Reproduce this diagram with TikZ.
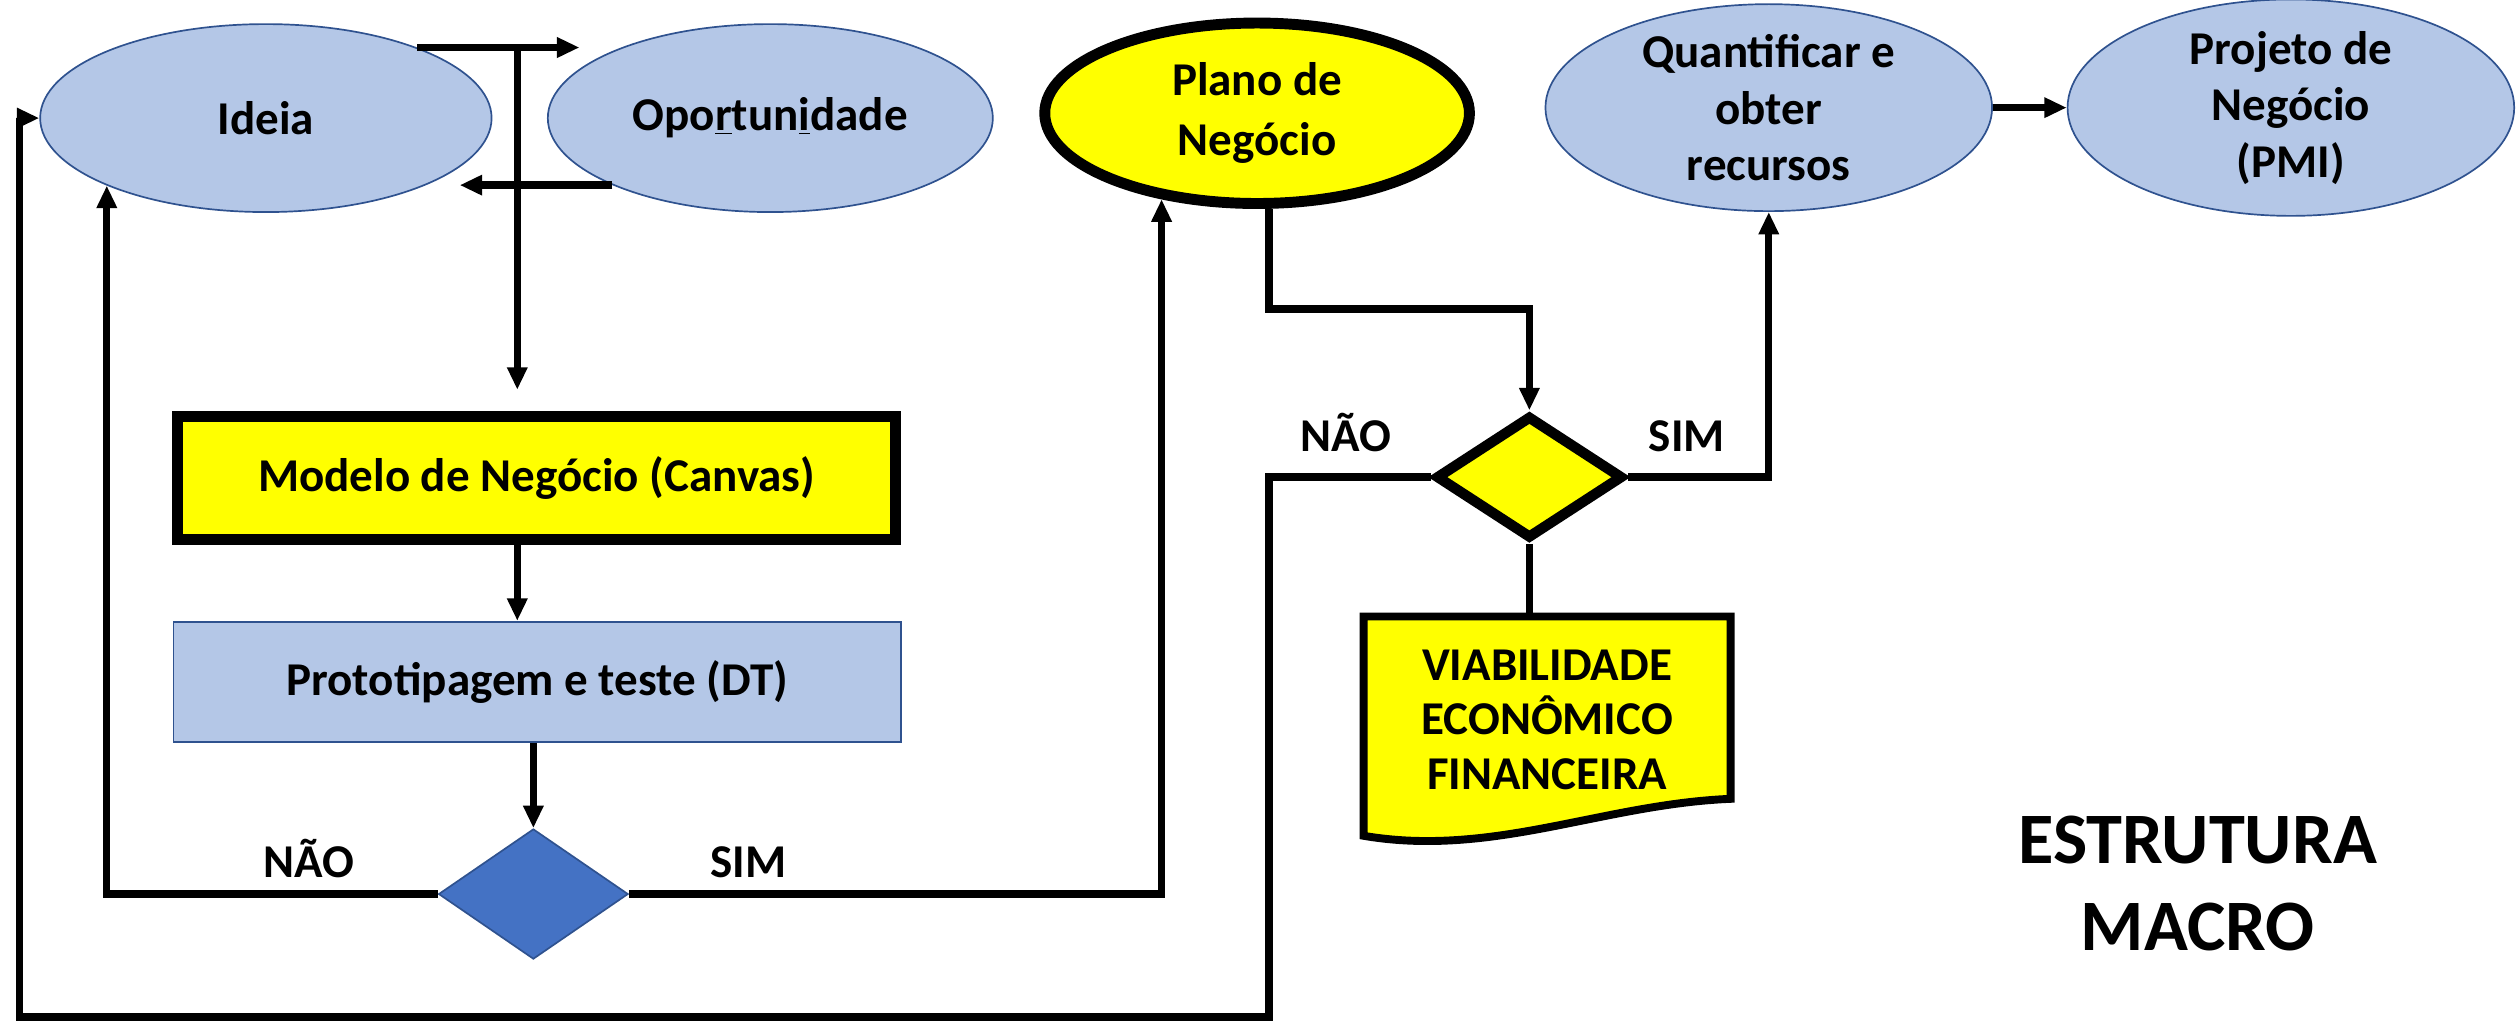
\documentclass[tikz,border=0pt]{standalone}
\usepackage{fontspec}
\setmainfont{Carlito}
\usetikzlibrary{arrows.meta,shapes.geometric,positioning,backgrounds}
\definecolor{lightblue}{HTML}{B4C7E7}
\definecolor{darkblue}{HTML}{2F528F}
\definecolor{midblue}{HTML}{4472C4}
\definecolor{brightyellow}{HTML}{FFFF00}

\begin{document}
\begin{tikzpicture}[x=0.03cm, y=-0.03cm,
	txt/.style={font=\fontsize{25}{30}\selectfont\bfseries, align=center, inner sep=0},
	blueell/.style={ellipse, draw=darkblue, line width=0.9pt, fill=lightblue, txt},
	conn/.style={line width=3.9pt},
	arr/.style={conn, -{Triangle[length=0.42cm, width=0.36cm]}}]

	\useasboundingbox (0,0) rectangle (1568,637);

	\node[blueell, minimum width=8.43cm, minimum height=3.51cm] (ideia) at (165.5,73.5) {Ideia};
	\node[blueell, minimum width=8.31cm, minimum height=3.51cm] (oport) at (479.5,73.5) {Opo\underline{r}tun\underline{i}dade};
	\node[ellipse, draw, line width=5.8pt, fill=brightyellow, txt, font=\fontsize{25}{32}\selectfont\bfseries, minimum width=7.93cm, minimum height=3.37cm] (plano) at (782.5,70.5) {Plano de\\Negócio};
	\node[blueell, minimum width=8.34cm, minimum height=3.42cm] (quant) at (1101,67) {Quantificar e\\obter\\recursos};
	\node[blueell, minimum width=8.34cm, minimum height=3.42cm] (proj) at (1426,67) {Projeto de\\Negócio\\(PMI)};

	\node[rectangle, draw, line width=5.8pt, fill=brightyellow, txt, minimum width=13.42cm, minimum height=2.29cm] (modelo) at (334,297.5) {Modelo de Negócio (Canvas)};
	\node[rectangle, draw=darkblue, line width=0.9pt, fill=lightblue, txt, minimum width=13.59cm, minimum height=2.25cm] (proto) at (334.5,424.5) {Prototipagem e teste (DT)};
	\node[diamond, draw=darkblue, line width=0.9pt, fill=midblue, inner sep=0, minimum width=3.54cm, minimum height=2.43cm] (d1) at (332,556.5) {};
	\node[diamond, draw, line width=5.5pt, fill=brightyellow, inner sep=0, minimum width=3.5cm, minimum height=2.3cm] (d2) at (952,297) {};

	\node[txt, font=\fontsize{25}{29}\selectfont\bfseries, minimum width=6.84cm, minimum height=3.84cm] (viab) at (963,448) {VIABILIDADE\\ECONÔMICO\\FINANCEIRA};
	\begin{scope}[on background layer]
		\draw[line width=4.2pt, fill=brightyellow] (viab.north west) -- (viab.north east) -- ([yshift=0.45cm]viab.south east) .. controls ([shift={(-2.4cm,0.35cm)}]viab.south east) and ([shift={(2.4cm,-0.65cm)}]viab.south west) .. ([yshift=-0.24cm]viab.south west) -- cycle;
	\end{scope}

	\node[txt, anchor=base] (nao1) at (192,546) {NÃO};
	\node[txt, anchor=base] (sim1) at (466,546) {SIM};
	\node[txt, anchor=base] (nao2) at (838,281) {NÃO};
	\node[txt, anchor=base] (sim2) at (1050,281) {SIM};
	\node[txt, font=\fontsize{38.5}{46}\selectfont\bfseries] (titulo) at (1368,550) {ESTRUTURA\\MACRO};

	\coordinate (mx) at ([xshift=-0.36cm]modelo.north);
	\coordinate (bot) at (790,633);
	\coordinate (lft) at (12,633);

	\draw[arr] (ideia.25) -- ++(101,0);
	\draw[arr] (oport.203) -- ++(-95,0);
	\draw[arr, shorten >=0.4cm] (ideia.25 -| mx) -- (mx);
	\draw[arr] (modelo.south -| mx) -- (proto.north -| mx);
	\draw[arr] (d1.north |- proto.south) -- (d1.north);
	\draw[arr] (d1.west) -| (ideia.203);
	\draw[arr] (d1.east) -| (plano.222);
	\draw[arr] (plano.277) |- ([yshift=1.89cm]d2.north) -- (d2.north);
	\draw[arr] (d2.east) -| (quant.south);
	\draw[arr] (d2.west) -| (bot) -- (lft) |- (ideia.west);
	\draw[conn] (d2.south) -- (d2.south |- viab.north);
	\draw[arr] (quant) -- (proj);

\end{tikzpicture}
\end{document}
